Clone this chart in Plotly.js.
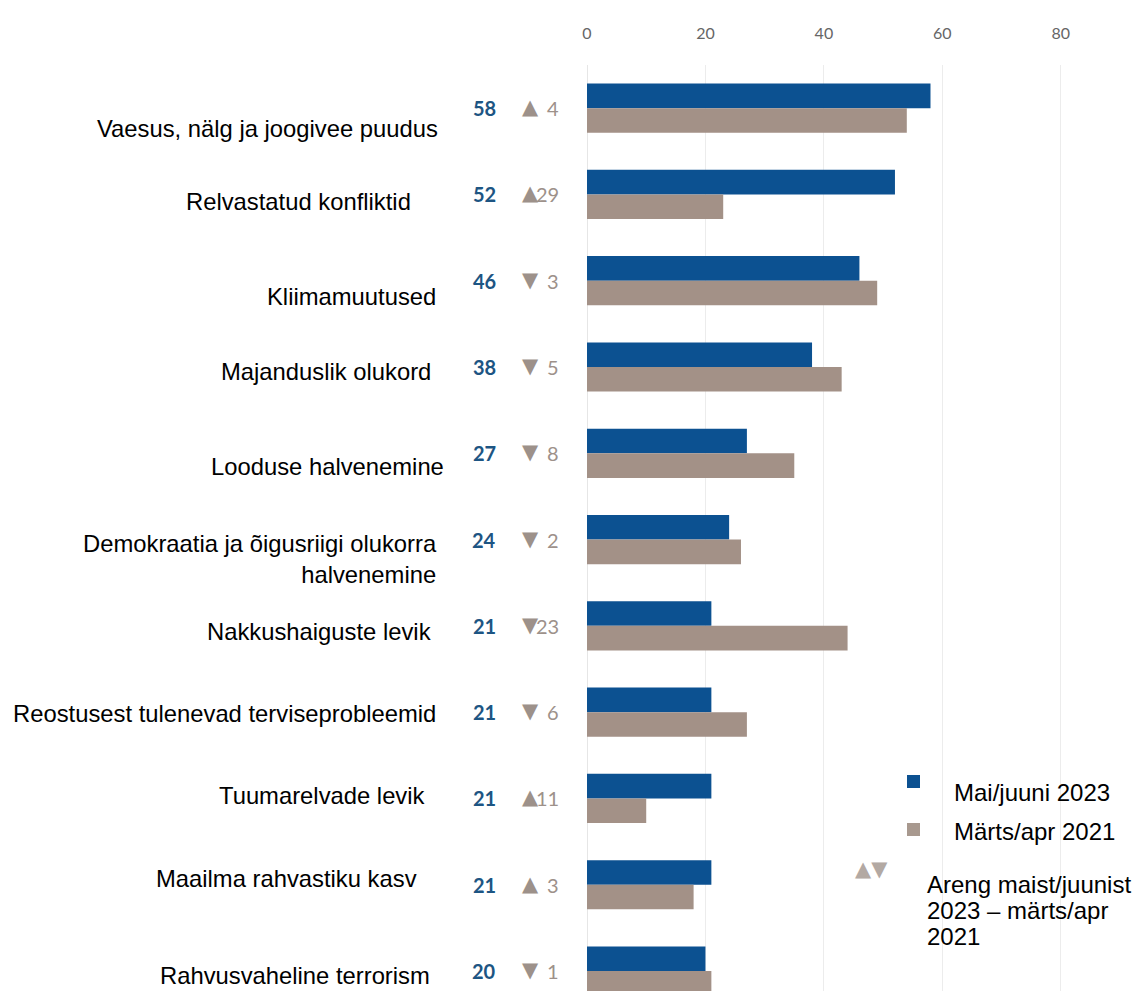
<!DOCTYPE html>
<html>
<head>
<meta charset="utf-8">
<script src="https://cdn.plot.ly/plotly-3.0.1.min.js"></script>
<style>html,body{margin:0;padding:0;background:#fff;}#chart{width:1148px;height:991px;}</style>
</head>
<body>
<div id="chart"></div>
<script>
// ---- data ----
var categories = [
  "Vaesus, nälg ja joogivee puudus",
  "Relvastatud konfliktid",
  "Kliimamuutused",
  "Majanduslik olukord",
  "Looduse halvenemine",
  "Demokraatia ja õigusriigi olukorra<br>halvenemine",
  "Nakkushaiguste levik",
  "Reostusest tulenevad terviseprobleemid",
  "Tuumarelvade levik",
  "Maailma rahvastiku kasv",
  "Rahvusvaheline terrorism"
];
var values2023 = [58, 52, 46, 38, 27, 24, 21, 21, 21, 21, 20];
var values2021 = [54, 23, 49, 43, 35, 26, 44, 27, 10, 18, 21];
var seriesNames = ["Mai/juuni 2023", "Märts/apr 2021"];
var xTicks = [0, 20, 40, 60, 80];
var changeLegendLines = ["Areng maist/juunist", "2023 – märts/apr", "2021"];

// ---- style ----
var BLUE = "#0c5191";
var GREY = "#a39187";
var NUM_BLUE = "#1d5583";
var DELTA_GREY = "#9d918a";
var W = 1148, H = 991;
var ML = 587, MR = 28, MT = 65, MB = 0;
var ROW0 = 108, PITCH = 86.3;
function px(p){ return (p - ML) / (W - ML - MR); }
function py(p){ return (H - MB - p) / (H - MT - MB); }

var idx = categories.map(function(_, i){ return i; });

var traces = [
  {type: "bar", orientation: "h", name: seriesNames[0], y: idx, x: values2023,
   marker: {color: BLUE}, hoverinfo: "x"},
  {type: "bar", orientation: "h", name: seriesNames[1], y: idx, x: values2021,
   marker: {color: GREY}, hoverinfo: "x"}
];

// label placement (px): right edge and vertical offset from row centre
var labelRight = [440, 413, 438, 433, 446, 439, 433, 438, 427, 419, 432];
var labelDy = [20, 7, 16, 4, 13, 19, 6, 1, -3, -6, 4];

var LABEL_FONT = "Liberation Sans, Arial, sans-serif";
var NUM_FONT = "Lato, 'Open Sans', sans-serif";

var annotations = [];
idx.forEach(function(i){
  var d = values2023[i] - values2021[i];
  annotations.push({xref: "x", yref: "y", x: 0, y: i, xanchor: "right", yanchor: "middle",
    xshift: 498 - ML, showarrow: false, text: "<b>" + values2023[i] + "</b>",
    font: {family: NUM_FONT, size: 20, color: NUM_BLUE}});
  annotations.push({xref: "x", yref: "y", x: 0, y: i, xanchor: "center", yanchor: "middle",
    xshift: 530 - ML, yshift: 1, showarrow: false, text: d >= 0 ? "▲" : "▼",
    font: {family: "DejaVu Sans, sans-serif", size: 21, color: DELTA_GREY}});
  annotations.push({xref: "x", yref: "y", x: 0, y: i, xanchor: "right", yanchor: "middle",
    xshift: 561 - ML, showarrow: false, text: String(Math.abs(d)),
    font: {family: NUM_FONT, size: 20, color: DELTA_GREY}});
  annotations.push({xref: "paper", yref: "y", x: px(labelRight[i]), y: i, xanchor: "right", yanchor: "middle",
    yshift: -labelDy[i], showarrow: false, text: categories[i], align: "right",
    font: {family: LABEL_FONT, size: 23.8, color: "#000"}});
});

// custom legend (text)
annotations.push({xref: "paper", yref: "paper", x: px(952), y: py(792), xanchor: "left", yanchor: "middle",
  showarrow: false, text: seriesNames[0], font: {family: LABEL_FONT, size: 24, color: "#000"}});
annotations.push({xref: "paper", yref: "paper", x: px(952), y: py(831), xanchor: "left", yanchor: "middle",
  showarrow: false, text: seriesNames[1], font: {family: LABEL_FONT, size: 24, color: "#000"}});
annotations.push({xref: "paper", yref: "paper", x: px(871), y: py(869), xanchor: "center", yanchor: "middle",
  showarrow: false, text: "▲▼", font: {family: "DejaVu Sans", size: 21, color: "#b3a9a3"}});
changeLegendLines.forEach(function(t, k){
  annotations.push({xref: "paper", yref: "paper", x: px(925), y: py(884 + 26 * k), xanchor: "left", yanchor: "middle",
    showarrow: false, text: t, font: {family: LABEL_FONT, size: 24, color: "#000"}});
});

var shapes = [
  {type: "rect", xref: "paper", yref: "paper", x0: px(907), x1: px(920), y0: py(788), y1: py(775),
   fillcolor: BLUE, line: {width: 0}},
  {type: "rect", xref: "paper", yref: "paper", x0: px(907), x1: px(920), y0: py(836), y1: py(823),
   fillcolor: "#a8998f", line: {width: 0}}
];

var layout = {
  width: W, height: H,
  margin: {l: ML, r: MR, t: MT, b: MB, pad: 0},
  paper_bgcolor: "#fff", plot_bgcolor: "#fff",
  showlegend: false,
  barmode: "group", bargap: 0.43, bargroupgap: 0,
  xaxis: {side: "top", range: [0, 90], tickvals: xTicks, ticktext: xTicks.map(String),
    showgrid: true, gridcolor: "#ececec", gridwidth: 1, zeroline: true, zerolinecolor: "#e6e6e6",
    ticks: "outside", ticklen: 19, tickcolor: "rgba(0,0,0,0)", showline: false,
    tickfont: {family: NUM_FONT, size: 16, color: "#666"}, fixedrange: true},
  yaxis: {type: "linear", range: [(H - ROW0) / PITCH, -0.5], showticklabels: false, showgrid: false,
    zeroline: false, ticks: "", fixedrange: true},
  annotations: annotations,
  shapes: shapes
};

Plotly.newPlot("chart", traces, layout, {displayModeBar: false, staticPlot: true});
</script>
</body>
</html>
